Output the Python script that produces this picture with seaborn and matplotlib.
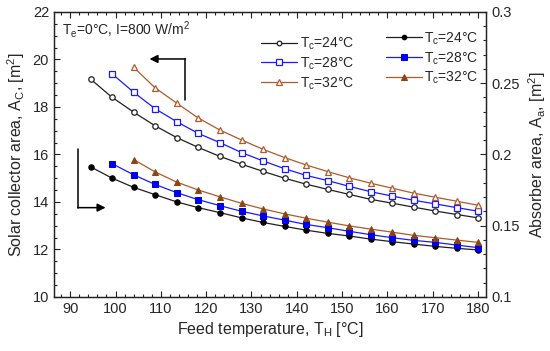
import numpy as np
import pandas as pd
import matplotlib
matplotlib.use("Agg")
import matplotlib.pyplot as plt
import seaborn as sns
from matplotlib.ticker import MultipleLocator

# --- DATA ---
feed_temp = [94.5, 99.2, 104.0, 108.7, 113.5, 118.2, 123.0, 127.8, 132.5, 137.3,
             142.0, 146.8, 151.5, 156.3, 161.0, 165.8, 170.5, 175.3, 180.0]

# solar collector area A_c [m2] (left axis)
ac_24 = [19.17, 18.41, 17.78, 17.21, 16.71, 16.30, 15.92, 15.59, 15.29, 15.00,
         14.75, 14.53, 14.32, 14.11, 13.95, 13.78, 13.62, 13.47, 13.33]
ac_28 = [19.40, 18.62, 17.93, 17.38, 16.89, 16.50, 16.08, 15.73, 15.40, 15.12,
         14.90, 14.66, 14.43, 14.25, 14.07, 13.92, 13.76, 13.61]
ac_32 = [19.67, 18.81, 18.16, 17.54, 17.03, 16.61, 16.22, 15.87, 15.56, 15.28,
         15.02, 14.79, 14.58, 14.37, 14.20, 14.03, 13.86]

# absorber area A_a [m2] (right axis)
aa_24 = [0.1913, 0.1834, 0.1769, 0.1718, 0.1667, 0.1627, 0.1592, 0.1555, 0.1523, 0.1495,
         0.1469, 0.1446, 0.1428, 0.1406, 0.1388, 0.1371, 0.1355, 0.1341, 0.1330]
aa_28 = [0.1936, 0.1857, 0.1790, 0.1732, 0.1683, 0.1641, 0.1601, 0.1569, 0.1539, 0.1509,
         0.1486, 0.1461, 0.1437, 0.1416, 0.1397, 0.1383, 0.1364, 0.1346]
aa_32 = [0.1964, 0.1878, 0.1806, 0.1751, 0.1703, 0.1657, 0.1618, 0.1583, 0.1553, 0.1525,
         0.1499, 0.1476, 0.1455, 0.1432, 0.1416, 0.1399, 0.1383]

labels = ["T$_c$=24°C", "T$_c$=28°C", "T$_c$=32°C"]
colors = ["#202020", "#1a1aff", "#b0592b"]
markers = ["o", "s", "^"]
msizes = [3.9, 4.4, 4.6]

sns.set_theme(style="ticks")
plt.rcParams['font.family'] = ['Liberation Sans', 'DejaVu Sans']
plt.rcParams['mathtext.fontset'] = 'custom'
plt.rcParams['mathtext.rm'] = 'Liberation Sans'
plt.rcParams['mathtext.it'] = 'Liberation Sans'

fig = plt.figure(figsize=(5.5, 3.51), dpi=100)
ax = fig.add_axes([0.098, 0.154, 0.786, 0.812])
ax2 = ax.twinx()

left_sets = [ac_24, ac_28, ac_32]
right_sets = [aa_24, aa_28, aa_32]

# open markers: collector area
lines_left = []
for vals, lab, col, mk, ms in zip(left_sets, labels, colors, markers, msizes):
    xs = feed_temp[len(feed_temp) - len(vals):]
    sns.lineplot(x=xs, y=vals, ax=ax, color=col, lw=0.9, marker=mk,
                 markersize=ms, markerfacecolor="white",
                 markeredgecolor=col, markeredgewidth=0.9, label=lab, legend=False)
    lines_left.append(ax.lines[-1])

# filled markers: absorber area
lines_right = []
for vals, lab, col, mk, ms in zip(right_sets, labels, colors, markers, msizes):
    xs = feed_temp[len(feed_temp) - len(vals):]
    fc = "#8b4513" if mk == "^" else ("#0000ee" if mk == "s" else "black")
    sns.lineplot(x=xs, y=vals, ax=ax2, color=col, lw=0.9, marker=mk,
                 markersize=ms, markerfacecolor=fc,
                 markeredgecolor=fc, label=lab, legend=False)
    lines_right.append(ax2.lines[-1])

ax.set_xlim(86.4, 181.8)
ax.set_ylim(10, 22)
ax2.set_ylim(0.1, 0.3)

ax.xaxis.set_major_locator(MultipleLocator(10))
ax.xaxis.set_minor_locator(MultipleLocator(2))
ax.yaxis.set_major_locator(MultipleLocator(2))
ax.yaxis.set_minor_locator(MultipleLocator(0.5))
ax2.yaxis.set_major_locator(MultipleLocator(0.05))
ax2.yaxis.set_minor_locator(MultipleLocator(0.01))
ax2.set_yticklabels([f"{round(t, 2):g}" for t in ax2.get_yticks()])

ax.tick_params(axis="both", which="both", direction="in", top=True, labelsize=10.5,
               color="#222222", width=0.8)
ax.tick_params(which="major", length=4)
ax.tick_params(which="minor", length=2)
ax2.tick_params(axis="y", which="both", direction="in", labelsize=10.5, width=0.8)
ax2.tick_params(which="major", length=4)
ax2.tick_params(which="minor", length=2)
for a in (ax, ax2):
    for s in a.spines.values():
        s.set_linewidth(0.9)
        s.set_color("#222222")

ax.set_xlabel("Feed temperature, T$_H$ [°C]", fontsize=11.5, labelpad=3)
ax.set_ylabel("Solar collector area, A$_C$, [m$^2$]", fontsize=11.5, labelpad=4)
ax2.set_ylabel("Absorber area, A$_a$, [m$^2$]", fontsize=11.5, labelpad=5)

ax.text(0.018, 0.975, "T$_e$=0°C, I=800 W/m$^2$", transform=ax.transAxes,
        fontsize=10, va="top", ha="left")

ax.legend(handles=lines_left, labels=labels, loc="upper left",
          bbox_to_anchor=(0.46, 0.947), frameon=False, fontsize=10,
          handlelength=2.6, handletextpad=0.2, labelspacing=0.25,
          borderpad=0.1, markerscale=0.85)
ax2.legend(handles=lines_right, labels=labels, loc="upper left",
           bbox_to_anchor=(0.748, 0.965), frameon=False, fontsize=10,
           handlelength=2.6, handletextpad=0.2, labelspacing=0.25,
           borderpad=0.1, markerscale=0.85)

# pointer arrows to the axes
ax.plot([115.3, 115.3], [18.3, 20.02], color="black", lw=1.1)
ax.annotate("", xy=(107.5, 20.02), xytext=(115.45, 20.02),
            arrowprops=dict(arrowstyle="-|>", color="black", lw=1.1,
                            mutation_scale=12, shrinkA=0, shrinkB=0))
ax.plot([91.8, 91.8], [13.76, 16.23], color="black", lw=1.1)
ax.annotate("", xy=(97.8, 13.76), xytext=(91.65, 13.76),
            arrowprops=dict(arrowstyle="-|>", color="black", lw=1.1,
                            mutation_scale=12, shrinkA=0, shrinkB=0))

fig.savefig("out.png", dpi=100)
